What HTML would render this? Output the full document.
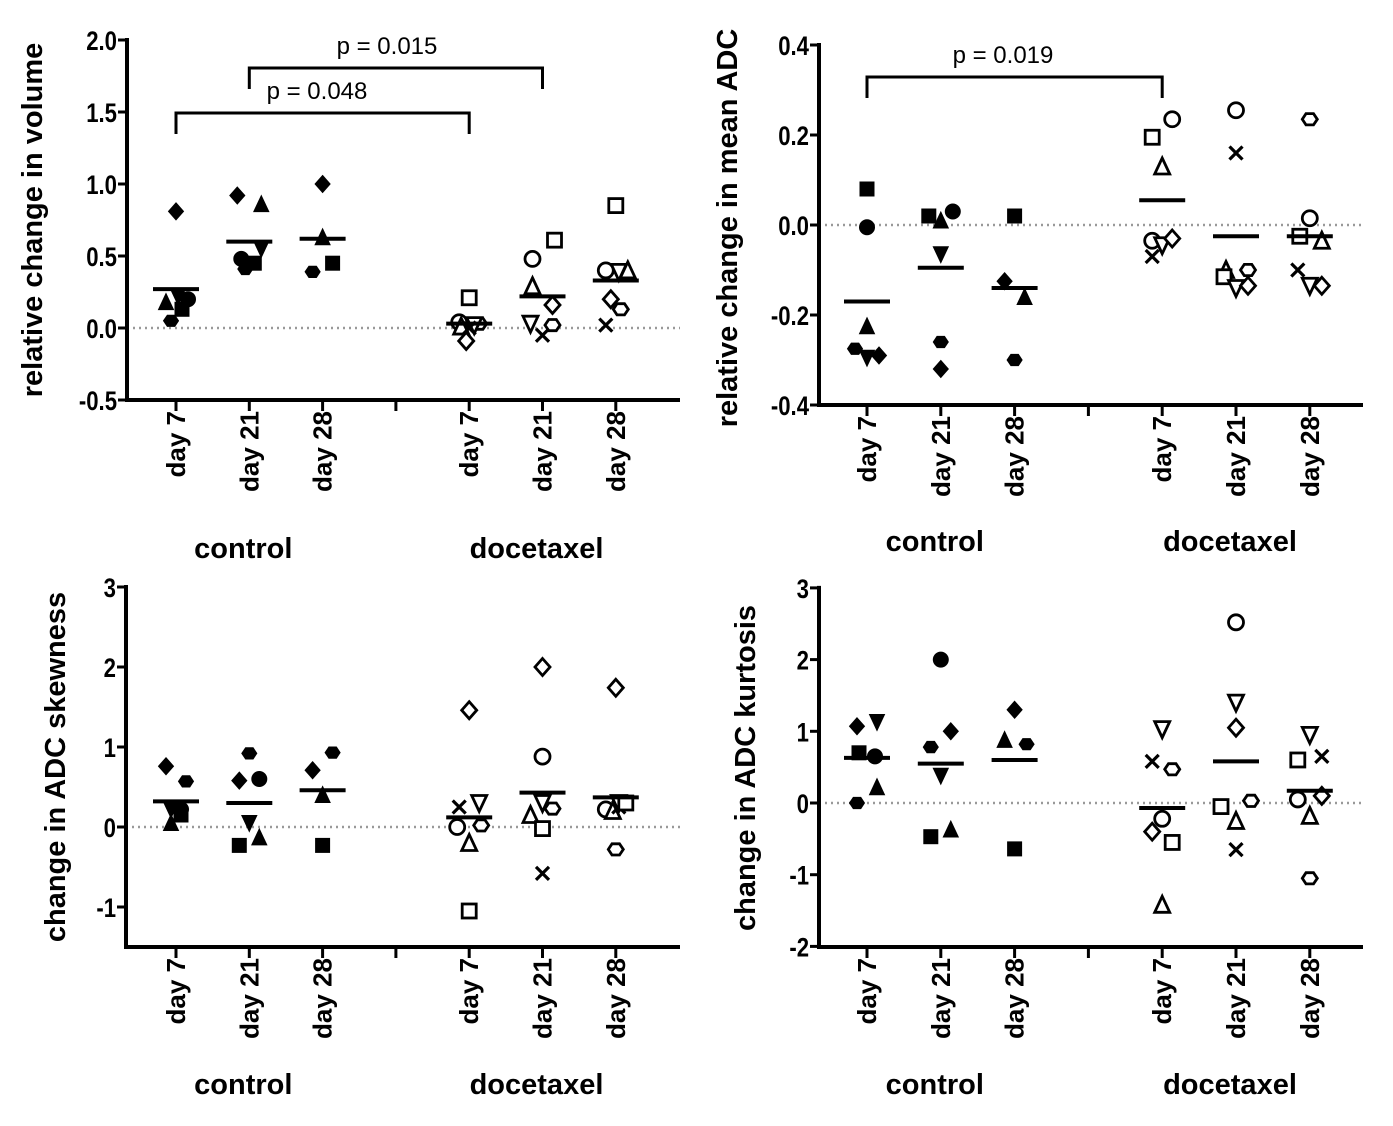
<!DOCTYPE html>
<html><head><meta charset="utf-8"><style>
html,body{margin:0;padding:0;background:#fff;}
svg{display:block;font-family:"Liberation Sans",Arial,sans-serif;}
</style></head><body>
<svg id="fig" width="1393" height="1126" viewBox="0 0 1393 1126"></svg>
<script>
// ---- shared categories ----
const categories = ["day 7","day 21","day 28","day 7","day 21","day 28"];
const groups = ["control","docetaxel"];
// shapes per point: sq, ci, tu, td, di, hx, x
// Panel A: relative change in volume
const volShapes = [["di","tu","td","ci","sq","hx"],["di","tu","td","ci","sq","hx"],["di","tu","hx","sq"],["sq","ci","hx","tu","td","x","di"],["sq","ci","tu","di","td","hx","x"],["sq","ci","td","tu","di","hx","x"]];
const volValues = [[0.81,0.18,0.22,0.2,0.13,0.05],[0.92,0.86,0.55,0.48,0.45,0.41],[1.0,0.63,0.39,0.45],[0.21,0.04,0.03,0.01,0.02,0.0,-0.09],[0.61,0.48,0.29,0.16,0.03,0.02,-0.05],[0.85,0.4,0.39,0.4,0.2,0.13,0.02]];
const volJitter = [[0,-10,2,12,6,-5],[-12,12,12,-8,5,-4],[0,0,-10,10],[0,-10,10,-8,5,0,-3],[12,-10,-10,10,-12,10,0],[0,-10,3,12,-5,5,-10]];
const volMeans = [0.27,0.6,0.62,0.03,0.22,0.33];
const volTicks = ["2.0","1.5","1.0","0.5","0.0","-0.5"];
const volTickVals = [2.0,1.5,1.0,0.5,0.0,-0.5];
// Panel B: relative change in mean ADC
const adcShapes = [["sq","ci","tu","hx","td","di"],["sq","tu","ci","td","hx","di"],["sq","di","tu","hx"],["sq","ci","tu","ci","x","td","di"],["ci","x","tu","hx","sq","td","di"],["hx","ci","sq","tu","x","td","di"]];
const adcValues = [[0.08,-0.005,-0.225,-0.275,-0.295,-0.29],[0.02,0.01,0.03,-0.065,-0.26,-0.32],[0.02,-0.125,-0.16,-0.3],[0.195,0.235,0.13,-0.035,-0.07,-0.045,-0.03],[0.255,0.16,-0.1,-0.1,-0.115,-0.14,-0.135],[0.235,0.015,-0.025,-0.035,-0.1,-0.135,-0.135]];
const adcJitter = [[0,0,0,-12,0,12],[-12,0,12,0,0,0],[0,-10,10,0],[-10,10,0,-10,-10,0,10],[0,0,-10,12,-12,0,12],[0,0,-10,12,-12,0,12]];
const adcMeans = [-0.17,-0.095,-0.14,0.055,-0.025,-0.025];
const adcTicks = ["0.4","0.2","0.0","-0.2","-0.4"];
const adcTickVals = [0.4,0.2,0.0,-0.2,-0.4];
// Panel C: change in ADC skewness
const skShapes = [["di","hx","td","ci","sq","tu"],["hx","di","ci","td","tu","sq"],["hx","di","tu","sq"],["di","x","td","ci","hx","tu","sq"],["di","ci","td","hx","tu","sq","x"],["di","ci","tu","x","td","sq","hx"]];
const skValues = [[0.76,0.57,0.22,0.22,0.15,0.05],[0.92,0.58,0.6,0.05,-0.13,-0.23],[0.93,0.71,0.4,-0.23],[1.46,0.25,0.3,0.0,0.02,-0.2,-1.05],[2.0,0.88,0.3,0.23,0.15,-0.02,-0.58],[1.74,0.22,0.2,0.25,0.3,0.3,-0.28]];
const skJitter = [[-10,10,-5,5,5,-5],[0,-10,10,0,10,-10],[10,-10,0,0],[0,-10,10,-12,12,0,0],[0,0,0,10,-12,0,0],[0,-10,-3,3,3,10,0]];
const skMeans = [0.32,0.3,0.46,0.12,0.43,0.37];
const skTicks = ["3","2","1","0","-1"];
const skTickVals = [3,2,1,0,-1];
// Panel D: change in ADC kurtosis
const kuShapes = [["di","td","sq","ci","tu","hx"],["ci","di","hx","td","tu","sq"],["di","tu","hx","sq"],["td","x","hx","ci","di","sq","tu"],["ci","td","di","sq","hx","tu","x"],["td","x","sq","ci","di","tu","hx"]];
const kuValues = [[1.07,1.13,0.7,0.65,0.22,0.0],[2.0,1.0,0.78,0.38,-0.37,-0.47],[1.3,0.88,0.82,-0.64],[1.03,0.58,0.47,-0.22,-0.4,-0.55,-1.42],[2.52,1.4,1.05,-0.05,0.03,-0.25,-0.65],[0.95,0.65,0.6,0.05,0.1,-0.18,-1.05]];
const kuJitter = [[-10,10,-8,8,10,-10],[0,10,-10,0,10,-10],[0,-10,12,0],[0,-10,10,0,-10,10,0],[0,0,0,-15,15,0,0],[0,12,-12,-12,12,0,0]];
const kuMeans = [0.63,0.55,0.6,-0.07,0.58,0.17];
const kuTicks = ["3","2","1","0","-1","-2"];
const kuTickVals = [3,2,1,0,-1,-2];

const NS="http://www.w3.org/2000/svg";
const svg=document.getElementById('fig');
function mk(tag,attrs,parent){const e=document.createElementNS(NS,tag);for(const k in attrs)e.setAttribute(k,attrs[k]);(parent||svg).appendChild(e);return e;}
function txt(s,attrs,parent){const e=mk('text',attrs,parent);e.textContent=s;return e;}

function marker(g,shape,cx,cy,filled){
  const f=filled?'#000':'#fff', st='#000', sw=filled?1:2.8, r=7.5;
  let e;
  if(shape==='sq') e=mk('rect',{x:cx-r+0.5,y:cy-r+0.5,width:2*r-1,height:2*r-1,fill:f,stroke:st,'stroke-width':sw},g);
  else if(shape==='ci') e=mk('circle',{cx:cx,cy:cy,r:r,fill:f,stroke:st,'stroke-width':sw},g);
  else if(shape==='tu') e=mk('polygon',{points:`${cx},${cy-r-1} ${cx+r},${cy+r} ${cx-r},${cy+r}`,fill:f,stroke:st,'stroke-width':sw},g);
  else if(shape==='td') e=mk('polygon',{points:`${cx-r},${cy-r} ${cx+r},${cy-r} ${cx},${cy+r+1}`,fill:f,stroke:st,'stroke-width':sw},g);
  else if(shape==='di') e=mk('polygon',{points:`${cx},${cy-r-1} ${cx+r},${cy} ${cx},${cy+r+1} ${cx-r},${cy}`,fill:f,stroke:st,'stroke-width':sw},g);
  else if(shape==='hx'){const p=[];for(let i=0;i<6;i++){const a=Math.PI/3*i;p.push((cx+(r)*Math.cos(a)).toFixed(1)+','+(cy+(r-1)*Math.sin(a)).toFixed(1));}e=mk('polygon',{points:p.join(' '),fill:f,stroke:st,'stroke-width':sw},g);}
  else { e=mk('path',{d:`M${cx-r+1},${cy-r+1}L${cx+r-1},${cy+r-1}M${cx+r-1},${cy-r+1}L${cx-r+1},${cy+r-1}`,stroke:st,'stroke-width':3.2,fill:'none'},g);}
  
  
}

function panel(o){
  const g=mk('g',{});
  
  
  const y=v=>o.y0+(v-o.v0)*(o.y1-o.y0)/(o.v1-o.v0);
  const catX=i=>o.cx0+(i<3?i:i+1)*o.step;
  const yTop=y(o.tickVals[0]), yBot=o.axisBot;
  const ax=mk('line',{x1:o.ax,y1:yTop-2,x2:o.ax,y2:yBot+2,stroke:'#000','stroke-width':4},g);
  
  const bx=mk('line',{x1:o.ax-2,y1:yBot,x2:o.axEnd,y2:yBot,stroke:'#000','stroke-width':4},g);
  
  o.tickVals.forEach((v,i)=>{
    mk('line',{x1:o.ax-9,y1:y(v),x2:o.ax,y2:y(v),stroke:'#000','stroke-width':3},g);
    const t=txt(o.ticks[i],{x:0,y:0,'text-anchor':'end','font-size':27,'font-weight':'bold',transform:`translate(${o.ax-10},${y(v)+10}) scale(0.82,1)`},g);
    
  });
  const z=mk('line',{x1:o.ax+6,y1:y(0),x2:o.axEnd,y2:y(0),stroke:'#999','stroke-width':2.5,'stroke-dasharray':'2 4'},g);
  
  for(let i=0;i<7;i++){const x=o.cx0+i*o.step;mk('line',{x1:x,y1:yBot,x2:x,y2:yBot+11,stroke:'#000','stroke-width':3},g);}
  categories.forEach((c,i)=>{
    const x=catX(i);
    const t=txt(c,{x:0,y:0,'text-anchor':'end','font-size':26,'font-weight':'bold',transform:`translate(${x+9},${yBot+11}) rotate(-90)`},g);
    
  });
  groups.forEach((gname,i)=>{
    const x=catX(i*3+1);
    const t=txt(gname,{x:x-6,y:o.groupY,'text-anchor':'middle','font-size':29,'font-weight':'bold'},g);
    
  });
  const yt=txt(o.title,{x:0,y:0,'text-anchor':'middle','font-size':29,'font-weight':'bold',transform:`translate(${o.titleX},${o.titleY}) rotate(-90)`},g);
  
  o.values.forEach((arr,i)=>{
    arr.forEach((v,j)=>marker(g,o.shapes[i][j],catX(i)+o.jitter[i][j],y(v),i<3));
    const m=mk('line',{x1:catX(i)-23,y1:y(o.means[i]),x2:catX(i)+23,y2:y(o.means[i]),stroke:'#000','stroke-width':4},g);
    
  });
  (o.brackets||[]).forEach(b=>{
    const p=mk('path',{d:`M${catX(b.a)},${b.yb+21}V${b.yb}H${catX(b.b)}V${b.yb+21}`,stroke:'#000','stroke-width':3,fill:'none'},g);
    
    const t=txt(b.label,{x:b.tx,y:b.yb-14,'text-anchor':'middle','font-size':24},g);
    
  });
}

panel({name:'volume-panel',title:'relative change in volume',values:volValues,shapes:volShapes,jitter:volJitter,means:volMeans,ticks:volTicks,tickVals:volTickVals,
  v0:0,y0:328,v1:1,y1:184,ax:127,axEnd:680,axisBot:400,cx0:176,step:73.3,groupY:558,titleX:42,titleY:220,
  brackets:[{a:0,b:3,yb:113,label:'p = 0.048',tx:317},{a:1,b:4,yb:68,label:'p = 0.015',tx:387}]});
panel({name:'mean-adc-panel',title:'relative change in mean ADC',values:adcValues,shapes:adcShapes,jitter:adcJitter,means:adcMeans,ticks:adcTicks,tickVals:adcTickVals,
  v0:0,y0:225,v1:0.2,y1:135,ax:819,axEnd:1363,axisBot:405,cx0:867,step:73.8,groupY:551,titleX:737,titleY:228,
  brackets:[{a:0,b:3,yb:77,label:'p = 0.019',tx:1003}]});
panel({name:'skewness-panel',title:'change in ADC skewness',values:skValues,shapes:skShapes,jitter:skJitter,means:skMeans,ticks:skTicks,tickVals:skTickVals,
  v0:0,y0:827,v1:1,y1:747,ax:126,axEnd:680,axisBot:947,cx0:176,step:73.3,groupY:1094,titleX:65,titleY:767});
panel({name:'kurtosis-panel',title:'change in ADC kurtosis',values:kuValues,shapes:kuShapes,jitter:kuJitter,means:kuMeans,ticks:kuTicks,tickVals:kuTickVals,
  v0:0,y0:803,v1:1,y1:731.3,ax:819,axEnd:1363,axisBot:947,cx0:867,step:73.8,groupY:1094,titleX:755,titleY:768});
</script>
</body></html>
